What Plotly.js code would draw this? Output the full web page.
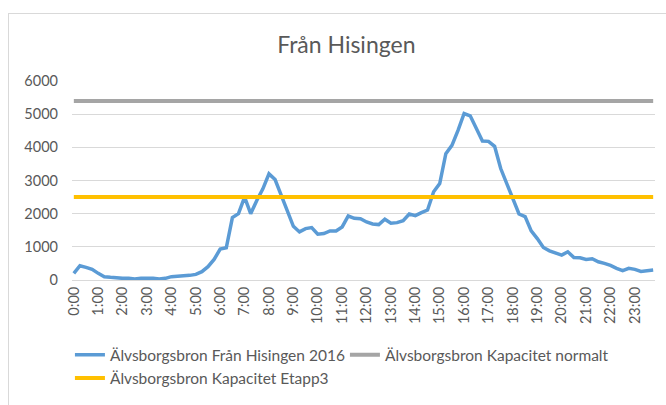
<!DOCTYPE html>
<html>
<head>
<meta charset="utf-8">
<script src="https://cdn.plot.ly/plotly-3.0.1.min.js"></script>
<style>
  html, body { margin: 0; padding: 0; background: #fff; }
  #chart { width: 666px; height: 405px; }
  #frame { position: absolute; left: 8px; top: 13px; width: 670px; height: 420px; border: 1px solid #d9d9d9; pointer-events: none; }
</style>
</head>
<body>
<div id="chart"></div>
<div id="frame"></div>
<script>
const times = [
  "0:00","0:15","0:30","0:45","1:00","1:15","1:30","1:45",
  "2:00","2:15","2:30","2:45","3:00","3:15","3:30","3:45",
  "4:00","4:15","4:30","4:45","5:00","5:15","5:30","5:45",
  "6:00","6:15","6:30","6:45","7:00","7:15","7:30","7:45",
  "8:00","8:15","8:30","8:45","9:00","9:15","9:30","9:45",
  "10:00","10:15","10:30","10:45","11:00","11:15","11:30","11:45",
  "12:00","12:15","12:30","12:45","13:00","13:15","13:30","13:45",
  "14:00","14:15","14:30","14:45","15:00","15:15","15:30","15:45",
  "16:00","16:15","16:30","16:45","17:00","17:15","17:30","17:45",
  "18:00","18:15","18:30","18:45","19:00","19:15","19:30","19:45",
  "20:00","20:15","20:30","20:45","21:00","21:15","21:30","21:45",
  "22:00","22:15","22:30","22:45","23:00","23:15","23:30","23:45"
];
const hourLabels = [
  "0:00","1:00","2:00","3:00","4:00","5:00","6:00","7:00","8:00","9:00","10:00","11:00",
  "12:00","13:00","14:00","15:00","16:00","17:00","18:00","19:00","20:00","21:00","22:00","23:00"
];
const traffic2016 = [
  200, 430, 380, 320, 200, 100, 80, 60,
  50, 50, 30, 50, 60, 50, 30, 50,
  100, 110, 130, 140, 170, 250, 400, 620,
  930, 970, 1880, 2000, 2500, 2000, 2400, 2750,
  3200, 3030, 2560, 2060, 1620, 1450, 1550, 1580,
  1380, 1400, 1480, 1480, 1600, 1930, 1860, 1850,
  1750, 1690, 1670, 1830, 1710, 1730, 1790, 1990,
  1940, 2030, 2110, 2660, 2910, 3810, 4060, 4510,
  5020, 4950, 4560, 4190, 4180, 4030, 3360, 2890,
  2460, 1990, 1910, 1480, 1250, 980, 880, 820,
  750, 850, 680, 670, 620, 640, 550, 500,
  440, 350, 280, 350, 320, 260, 270, 300
];
const capacityNormal = times.map(() => 5400);
const capacityEtapp3 = times.map(() => 2500);
const seriesNames = [
  "Älvsborgsbron Från Hisingen 2016",
  "Älvsborgsbron Kapacitet normalt",
  "Älvsborgsbron Kapacitet Etapp3"
];

const font = "Lato, 'Open Sans', sans-serif";
const traces = [
  { x: times, y: traffic2016, name: seriesNames[0], type: "scatter", mode: "lines",
    line: { color: "#5b9bd5", width: 3.5 } },
  { x: times, y: capacityNormal, name: seriesNames[1], type: "scatter", mode: "lines",
    line: { color: "#a5a5a5", width: 4 } },
  { x: times, y: capacityEtapp3, name: seriesNames[2], type: "scatter", mode: "lines",
    line: { color: "#ffc000", width: 4 } }
];

const layout = {
  width: 666, height: 405,
  margin: { l: 72, r: 11, t: 81, b: 125 },
  paper_bgcolor: "#ffffff", plot_bgcolor: "#ffffff",
  font: { family: font, color: "#595959", size: 14.5 },
  title: { text: "Från Hisingen", font: { family: font, size: 23, color: "#595959" },
           xref: "container", x: 0.52, xanchor: "center", yref: "container", y: 0.889, yanchor: "middle" },
  xaxis: {
    type: "category", range: [-0.3, 95.3],
    tickvals: hourLabels, ticktext: hourLabels, tickangle: -90,
    showgrid: false, zeroline: false,
    showline: true, linecolor: "#d9d9d9", linewidth: 1,
    ticks: "", tickfont: { size: 14.5, color: "#595959" }
  },
  yaxis: {
    range: [0, 6000], dtick: 1000, tick0: 0,
    showgrid: true, gridcolor: "#d9d9d9", gridwidth: 1,
    zeroline: false, showline: false, ticks: "",
    tickfont: { size: 14.5, color: "#595959" }, ticklabelstandoff: 13
  },
  showlegend: true,
  legend: {
    orientation: "h", xref: "container", yref: "container",
    x: 0.105, xanchor: "left", y: 0.165, yanchor: "top",
    font: { family: font, size: 15.5, color: "#595959" },
    itemwidth: 30, tracegroupgap: 0, traceorder: "normal",
    entrywidth: 230, entrywidthmode: "pixels"
  }
};

Plotly.newPlot("chart", traces, layout, { staticPlot: true, displayModeBar: false });
</script>
</body>
</html>
